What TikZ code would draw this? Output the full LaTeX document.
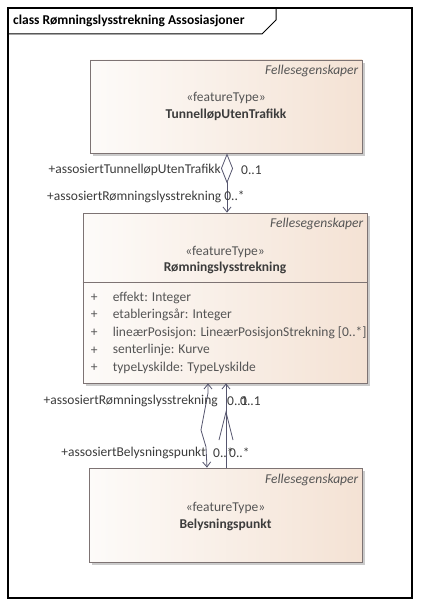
\documentclass[tikz,border=0pt]{standalone}
\usepackage{fontspec}
\setmainfont{Carlito}
\usetikzlibrary{arrows.meta,shadows}
\definecolor{boxleft}{RGB}{253,251,249}
\definecolor{boxright}{RGB}{244,226,212}
\definecolor{boxline}{RGB}{125,115,115}
\definecolor{conncol}{RGB}{85,85,110}
\definecolor{txtdark}{RGB}{60,60,60}
\definecolor{txtgray}{RGB}{85,85,85}
\begin{document}
\begin{tikzpicture}[x=1pt,y=-1pt,
  font=\fontsize{13.5}{15}\selectfont,
  classbox/.style={draw=boxline, line width=0.8pt, left color=boxleft, right color=boxright,
    shading angle=90, rectangle, inner sep=0pt,
    drop shadow={shadow xshift=3pt, shadow yshift=-3pt, fill=black!45, opacity=.45}},
  pkgtxt/.style={anchor=north east, inner sep=0pt, text=txtgray, font=\fontsize{13.5}{15}\selectfont\itshape},
  stereo/.style={anchor=center, inner sep=0pt, text=txtgray},
  cname/.style={anchor=center, inner sep=0pt, text=txtdark, font=\fontsize{13.5}{15}\selectfont\bfseries},
  attr/.style={anchor=west, inner sep=0pt, text=txtgray},
  role/.style={inner sep=0pt, text=txtdark},
  conn/.style={draw=conncol, line width=0.8pt},
  opentip/.tip={Straight Barb[length=5pt,width=8pt,line width=0.8pt]}
]
\useasboundingbox (0,0) rectangle (420,607);
\fill[white] (0,0) rectangle (420,607);

% diagram frame with its title tab
\draw[line width=1.4pt] (8,8) rectangle (412,598);
\draw[line width=1pt] (8,34) -- (262,34) -- (276,20) -- (276,8);
\node[anchor=west, inner sep=0pt, font=\fontsize{13.5}{15}\selectfont\bfseries] (title) at (13,21)
  {class Rømningslysstrekning Assosiasjoner};

% classes
\node[classbox, minimum width=272pt, minimum height=93pt] (tun) at (226,106.5) {};
\node[classbox, minimum width=284pt, minimum height=170pt] (rom) at (225,298) {};
\node[classbox, minimum width=273pt, minimum height=94pt] (bel) at (225.5,515) {};

% TunnelløpUtenTrafikk
\node[pkgtxt] (tunpkg) at ([shift={(-4,5)}]tun.north east) {Fellesegenskaper};
\node[stereo] (tunst) at ([shift={(0,38)}]tun.north) {«featureType»};
\node[cname] (tunnm) at ([shift={(0,55)}]tun.north) {TunnelløpUtenTrafikk};

% Rømningslysstrekning
\node[pkgtxt] (rompkg) at ([shift={(-4,5)}]rom.north east) {Fellesegenskaper};
\node[stereo] (romst) at ([shift={(0,39)}]rom.north) {«featureType»};
\node[cname] (romnm) at ([shift={(0,55)}]rom.north) {Rømningslysstrekning};
\draw[draw=boxline, line width=0.8pt] ([shift={(0,70)}]rom.north west) -- ([shift={(0,70)}]rom.north east);
\foreach \i/\t in {0/{effekt: Integer},1/{etableringsår: Integer},
  2/{lineærPosisjon: LineærPosisjonStrekning [0..*]},3/{senterlinje: Kurve},
  4/{typeLyskilde: TypeLyskilde}} {
  \node[attr] (plus\i) at ([shift={(8,85+17.6*\i)}]rom.north west) {+};
  \node[attr] (attr\i) at ([shift={(30,85+17.6*\i)}]rom.north west) {\t};
}

% Belysningspunkt
\node[pkgtxt] (belpkg) at ([shift={(-4,6)}]bel.north east) {Fellesegenskaper};
\node[stereo] (belst) at ([shift={(0,40)}]bel.north) {«featureType»};
\node[cname] (belnm) at ([shift={(0,57)}]bel.north) {Belysningspunkt};

% aggregation TunnelløpUtenTrafikk -- Rømningslysstrekning
\draw[conn, {Diamond[open, fill=white, length=30pt, width=12pt, line width=0.8pt]}-opentip]
  ([xshift=1]tun.south) -- ([xshift=1]tun.south |- rom.north);
\node[role, anchor=east] (r1) at (221,170) {+assosiertTunnelløpUtenTrafikk};
\node[role, anchor=west] (m1) at (241,170) {0..1};
\node[role, anchor=west] (r2) at (47,197) {+assosiertRømningslysstrekning 0..*};

% associations Rømningslysstrekning -- Belysningspunkt
\coordinate (k1) at (208,393);
\coordinate (k2) at (201,430);
\coordinate (k3) at (206,447);
\draw[conn, opentip-opentip] (rom.south -| 208,0) -- (k1) -- (k2) -- (k3) -- (bel.north -| 207,0);
\draw[conn, opentip-] (rom.south -| 226,0) -- (bel.north -| 226,0);
\coordinate (v0) at (226,412);
\draw[conn] (219,440) -- (v0) -- (233,440);

\node[role, anchor=east] (r3) at (218,401) {+assosiertRømningslysstrekning};
\node[role, anchor=west] (m2) at (227,401) {0..1};
\node[role, anchor=west] (m3) at (240,401) {0..1};
\node[role, anchor=east] (r4) at (206,453) {+assosiertBelysningspunkt};
\node[role, anchor=west] (m4) at (213,453) {0..*};
\node[role, anchor=west] (m5) at (229,453) {0..*};
\end{tikzpicture}
\end{document}
